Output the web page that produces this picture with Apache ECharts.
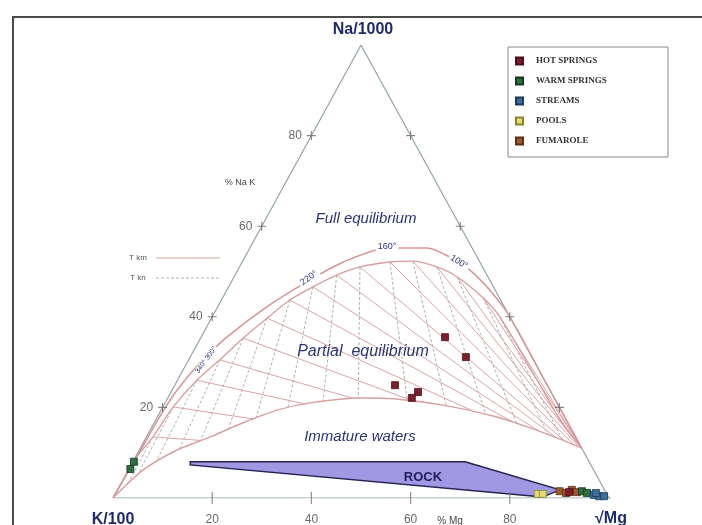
<!DOCTYPE html>
<html>
<head>
<meta charset="utf-8">
<script src="https://cdn.jsdelivr.net/npm/echarts@6/dist/echarts.min.js"></script>
<style>
html, body { margin: 0; background: #fff; }
#main { width: 702px; height: 525px; }
</style>
</head>
<body>
<div id="main"></div>
<script>
// ternary points are [% Mg, % Na], % K is what is left
const tickLevels = [20, 40, 60, 80]

// full equilibrium line
const fullEquilibrium = [[0, 0], [0.3, 10.6], [0.5, 19.0], [1.0, 23.8], [2.6, 29.8], [5.2, 35.5], [9.9, 42.2], [15.6, 48.1], [20.4, 52.1], [27.6, 55.2], [35.7, 55.2], [41.3, 53.2], [46.8, 50.3], [53.0, 45.9], [60.0, 40.0], [75.0, 25.0], [89.0, 11.0]]
// inner line carrying the temperature points
const innerLine = [[0, 0], [0.3, 9.0], [1.3, 13.5], [2.1, 20.1], [3.9, 26.0], [6.3, 30.5], [8.6, 35.3], [11.2, 39.7], [13.8, 43.7], [17.0, 46.6], [20.5, 49.2], [24.3, 51.0], [29.8, 52.1], [34.3, 52.3], [39.8, 51.0], [45.0, 48.8], [52.5, 44.2], [58.0, 40.0], [72.0, 26.5], [82.5, 16.3], [89.0, 11.0]]
// partial equilibrium / immature water boundary
const immatureLine = [[0, 0], [3.0, 6.2], [7.6, 10.6], [12.9, 13.5], [17.9, 16.6], [23.4, 19.4], [29.2, 21.0], [38.8, 22.1], [45.6, 21.9], [56.3, 20.5], [67.6, 18.1], [75.7, 15.7], [83.6, 13.0], [89.0, 11.0]]

// isotherms: start on the inner line, end on the immature line
const isoStart = [[1.3, 13.5], [2.1, 20.1], [3.9, 26.0], [6.3, 30.5], [8.6, 35.3], [11.2, 39.7], [13.8, 43.7], [17.0, 46.6], [20.5, 49.2], [24.3, 51.0], [29.8, 52.1], [34.3, 52.3], [39.8, 51.0], [45.0, 48.8], [52.5, 44.2], [58.0, 40.0]]
const kmEnd = [[11.4, 12.7], [19.9, 17.4], [28.6, 20.7], [37.4, 22.0], [50.7, 21.1], [63.5, 19.0], [72.0, 16.9], [78.8, 14.6], [82.4, 13.5], [84.8, 12.6], [86.7, 12.0], [87.7, 11.7], [88.3, 11.5], [88.7, 11.2], [89.0, 11.0], [89.0, 11.0]]
const knEnd = [[1.4, 3.3], [2.4, 5.6], [4.7, 7.9], [8.0, 10.6], [11.3, 12.8], [15.7, 15.0], [20.0, 17.7], [25.3, 19.9], [31.7, 21.3], [38.4, 22.1], [48.5, 21.6], [56.9, 20.5], [65.9, 18.5], [73.3, 16.3], [80.8, 13.9], [84.4, 12.6]]

const rock = [[11.6, 8.0], [67.0, 8.0], [89.2, 1.8], [86.5, 0.2], [11.9, 7.3]]

const hotSprings = [[49.2, 35.5], [55.6, 31.1], [44.4, 24.9], [49.8, 23.4], [49.2, 22.1], [91.3, 1.3]]
const warmSprings = [[0.2, 8.0], [0.3, 6.4], [93.8, 1.5], [95.0, 1.1]]
const streams = [[96.6, 0.7], [97.8, 0.4], [98.8, 0.4], [96.8, 1.1]]
const pools = [[85.2, 0.9], [86.2, 0.9]]
const fumarole = [[89.3, 1.5], [90.8, 1.1], [91.6, 1.8], [92.9, 1.3]]

const tern = p => [p[0] + p[1] / 2, p[1]]

const navy = '#2b3478'
const plus = 'path://M4.4,0h1.2v10h-1.2zM0,4.4h10v1.2h-10z'

function samples (name, data, color, border) {
  return {
    name: name,
    type: 'scatter',
    data: data.map(tern),
    symbol: 'rect',
    symbolSize: 7,
    itemStyle: { color: color, borderColor: border, borderWidth: 0.8, opacity: 1 },
    z: 5
  }
}

function curve (data, color, width) {
  return {
    type: 'line',
    data: data.map(tern),
    smooth: 0.25,
    symbol: 'none',
    silent: true,
    lineStyle: { color: color, width: width },
    z: 3
  }
}

const chart = echarts.init(document.getElementById('main'))

const option = {
  animation: false,
  backgroundColor: '#fff',
  grid: { left: 113, top: 45, width: 496, height: 453 },
  xAxis: { type: 'value', min: 0, max: 100, show: false },
  yAxis: { type: 'value', min: 0, max: 100, show: false },
  legend: {
    data: ['HOT SPRINGS', 'WARM SPRINGS', 'STREAMS', 'POOLS', 'FUMAROLE'],
    orient: 'vertical',
    left: 510,
    top: 50,
    icon: 'rect',
    itemWidth: 7,
    itemHeight: 7,
    itemGap: 8,
    selectedMode: false,
    textStyle: { fontFamily: 'Liberation Serif', fontWeight: 'bold', fontSize: 9, color: '#333', lineHeight: 12, padding: [0, 0, 0, 8] }
  },
  graphic: [
    { type: 'rect', shape: { x: 13, y: 17, width: 720, height: 540 }, style: { fill: 'none', stroke: '#4a4a4a', lineWidth: 2 }, z: 0 },
    { type: 'rect', shape: { x: 508, y: 47, width: 160, height: 110 }, style: { fill: '#fff', stroke: '#888', lineWidth: 1 }, z: 0 },
    { type: 'text', x: 363, y: 30, style: { text: 'Na/1000', font: 'bold 16px "Liberation Sans"', fill: '#1f2a6b', align: 'center', verticalAlign: 'middle' } },
    { type: 'text', x: 113, y: 520, style: { text: 'K/100', font: 'bold 16px "Liberation Sans"', fill: '#1f2a6b', align: 'center', verticalAlign: 'middle' } },
    { type: 'text', x: 611, y: 519, style: { text: '√Mg', font: 'bold 16px "Liberation Sans"', fill: '#1f2a6b', align: 'center', verticalAlign: 'middle' } },
    { type: 'text', x: 450, y: 521, style: { text: '% Mg', font: '10px "Liberation Sans"', fill: '#444', align: 'center', verticalAlign: 'middle' } },
    { type: 'text', x: 240, y: 183, style: { text: '% Na K', font: '9px "Liberation Sans"', fill: '#444', align: 'center', verticalAlign: 'middle' } },
    { type: 'text', x: 138, y: 258, style: { text: 'T km', font: '8px "Liberation Sans"', fill: '#555', align: 'center', verticalAlign: 'middle' } },
    { type: 'text', x: 138, y: 278, style: { text: 'T kn', font: '8px "Liberation Sans"', fill: '#555', align: 'center', verticalAlign: 'middle' } },
    { type: 'line', shape: { x1: 156, y1: 258, x2: 220, y2: 258 }, style: { stroke: '#d9a0a0', lineWidth: 1 } },
    { type: 'line', shape: { x1: 156, y1: 278, x2: 220, y2: 278 }, style: { stroke: '#999', lineWidth: 0.8, lineDash: [3, 2] } },
    { type: 'text', x: 366, y: 219, style: { text: 'Full equilibrium', font: 'italic 15px "Liberation Sans"', fill: navy, align: 'center', verticalAlign: 'middle' } },
    { type: 'text', x: 363, y: 352, style: { text: 'Partial  equilibrium', font: 'italic 16px "Liberation Sans"', fill: navy, align: 'center', verticalAlign: 'middle' }, z: 6 },
    { type: 'text', x: 360, y: 437, style: { text: 'Immature waters', font: 'italic 15px "Liberation Sans"', fill: navy, align: 'center', verticalAlign: 'middle' } },
    { type: 'text', x: 423, y: 477, style: { text: 'ROCK', font: 'bold 13px "Liberation Sans"', fill: '#1e1e5a', align: 'center', verticalAlign: 'middle' }, z: 6 },
    { type: 'text', x: 387, y: 247, style: { text: '160°', font: '9px "Liberation Sans"', fill: navy, align: 'center', verticalAlign: 'middle', backgroundColor: '#fff', padding: [0, 2] }, z: 6 },
    { type: 'text', x: 309, y: 278, rotation: 0.62, style: { text: '220°', font: '9px "Liberation Sans"', fill: navy, align: 'center', verticalAlign: 'middle', backgroundColor: '#fff', padding: [0, 2] }, z: 6 },
    { type: 'text', x: 459, y: 262, rotation: -0.55, style: { text: '100°', font: '9px "Liberation Sans"', fill: navy, align: 'center', verticalAlign: 'middle', backgroundColor: '#fff', padding: [0, 2] }, z: 6 },
    { type: 'text', x: 206, y: 360, rotation: 0.95, style: { text: '340° 300°', font: '7px "Liberation Sans"', fill: navy, align: 'center', verticalAlign: 'middle', backgroundColor: '#fff', padding: [0, 1] }, z: 6 }
  ],
  series: [
    {
      type: 'line',
      data: [[0, 0], [0, 100], [100, 0], [0, 0]].map(tern),
      symbol: 'none',
      silent: true,
      lineStyle: { color: '#8fa3a8', width: 1.2 },
      z: 2
    },
    {
      type: 'line',
      data: [[100, 0], [104, 0]].map(tern),
      symbol: 'none',
      silent: true,
      clip: false,
      lineStyle: { color: '#8fa3a8', width: 1.2 },
      z: 2
    },
    {
      type: 'lines',
      coordinateSystem: 'cartesian2d',
      silent: true,
      data: isoStart.map((p, i) => ({ coords: [tern(p), tern(knEnd[i])] })),
      lineStyle: { color: '#9a9a9a', width: 0.8, type: [3, 2], opacity: 1 },
      z: 2
    },
    {
      type: 'lines',
      coordinateSystem: 'cartesian2d',
      silent: true,
      data: isoStart.map((p, i) => ({ coords: [tern(p), tern(kmEnd[i])] })),
      lineStyle: { color: '#dca4a4', width: 1, opacity: 1 },
      z: 2
    },
    curve(fullEquilibrium, '#d69494', 1.5),
    curve(innerLine, '#d89c9c', 1.3),
    curve(immatureLine, '#d8a0a0', 1.5),
    {
      type: 'custom',
      data: [[0, 0]],
      silent: true,
      clip: false,
      renderItem: (params, api) => ({
        type: 'polygon',
        shape: { points: rock.map(p => api.coord(tern(p))) },
        style: { fill: '#a198e4', stroke: '#25224d', lineWidth: 1.5 }
      }),
      z: 3
    },
    {
      type: 'scatter',
      data: tickLevels.map(v => tern([0, v])),
      symbol: plus,
      symbolSize: 9,
      silent: true,
      itemStyle: { color: '#666' },
      label: {
        show: true,
        position: 'left',
        distance: 5,
        formatter: p => tickLevels[p.dataIndex],
        fontFamily: 'Liberation Sans',
        fontSize: 12,
        color: '#444'
      },
      z: 4
    },
    {
      type: 'scatter',
      data: tickLevels.map(v => tern([100 - v, v])),
      symbol: plus,
      symbolSize: 9,
      silent: true,
      itemStyle: { color: '#666' },
      z: 4
    },
    {
      type: 'scatter',
      data: tickLevels.map(v => tern([v, 0])),
      symbol: 'rect',
      symbolSize: [1.2, 12],
      silent: true,
      itemStyle: { color: '#777' },
      label: {
        show: true,
        position: 'bottom',
        distance: 10,
        formatter: p => tickLevels[p.dataIndex],
        fontFamily: 'Liberation Sans',
        fontSize: 12,
        color: '#444'
      },
      z: 4
    },
    samples('POOLS', pools, '#e3dc6e', '#8a8430'),
    samples('FUMAROLE', fumarole, '#9c5a2e', '#5a3018'),
    samples('HOT SPRINGS', hotSprings, '#7e1f2c', '#4a1018'),
    samples('WARM SPRINGS', warmSprings, '#2f6e3e', '#173a20'),
    samples('STREAMS', streams, '#3e6d9c', '#1d3a5a')
  ]
}

chart.setOption(option)
</script>
</body>
</html>
